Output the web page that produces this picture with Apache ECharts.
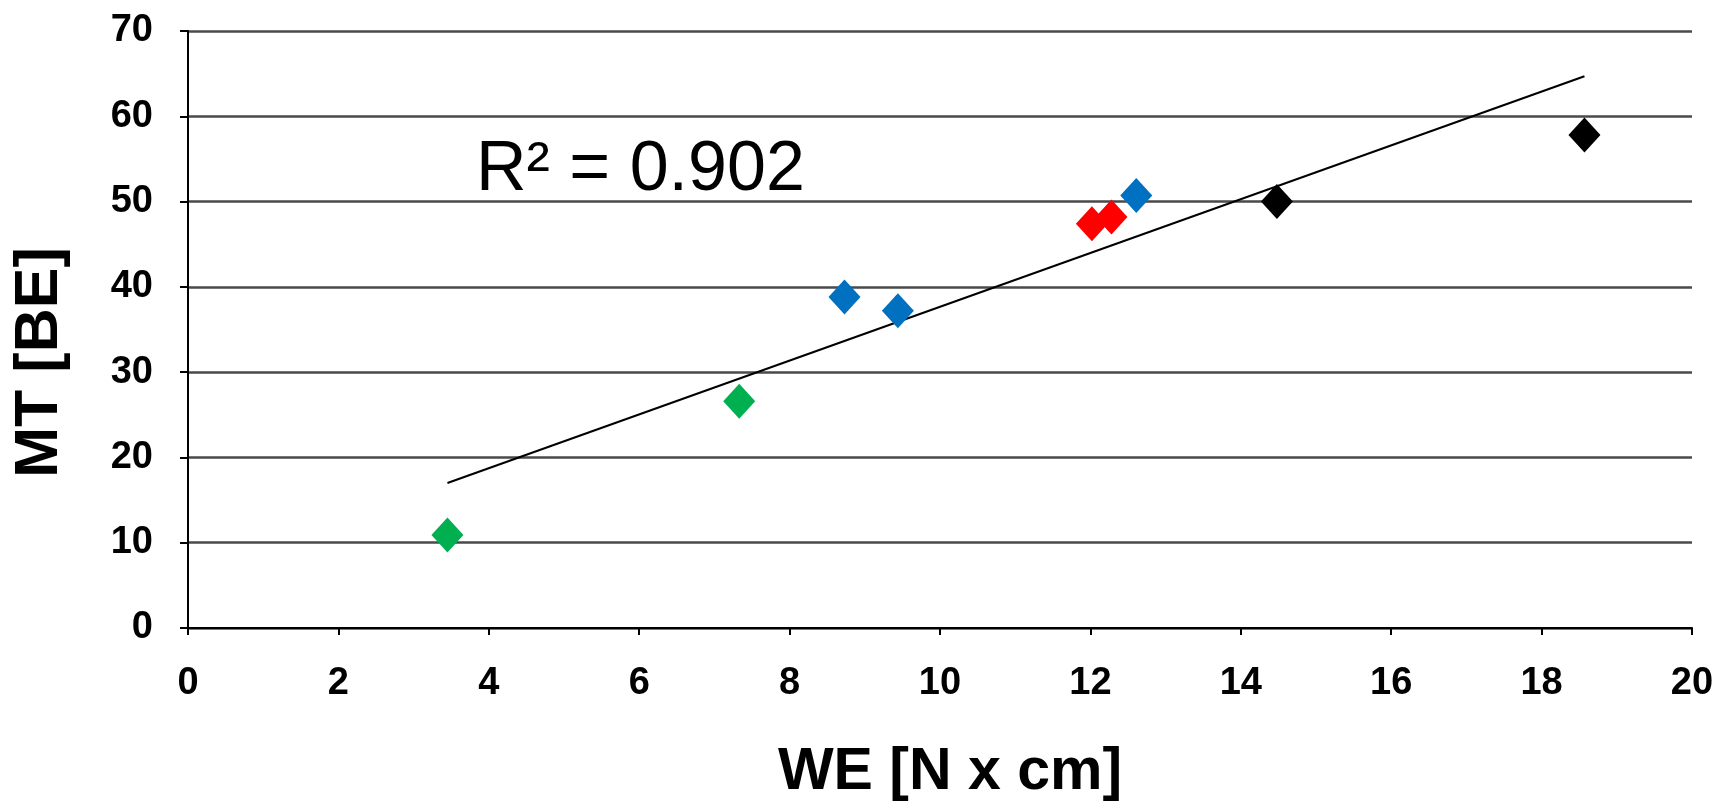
<!DOCTYPE html>
<html>
<head>
<meta charset="utf-8">
<script src="https://cdn.jsdelivr.net/npm/echarts@6/dist/echarts.min.js"></script>
<style>
  html, body { margin: 0; padding: 0; background: #fff; }
  #chart { width: 1734px; height: 812px; }
</style>
</head>
<body>
<div id="chart"></div>
<script>
// points, grouped by marker colour
const greenX = [3.45, 7.33]
const greenY = [10.9, 26.6]
const blueX = [8.73, 9.44, 12.61]
const blueY = [38.8, 37.2, 50.7]
const redX = [12.02, 12.28]
const redY = [47.4, 48.2]
const blackX = [14.48, 18.57]
const blackY = [50.0, 57.8]

// linear trend line end points
const trendX = [3.45, 18.57]
const trendY = [17.0, 64.7]

const rSquared = '0.902'

const pairs = (xs, ys) => xs.map((x, i) => [x, ys[i]])

const chart = echarts.init(document.getElementById('chart'))

const font = "'Liberation Sans', Arial, sans-serif"

function pointSeries(name, xs, ys, color) {
  return {
    name: name,
    type: 'scatter',
    symbol: 'diamond',
    symbolSize: [32, 35],
    data: pairs(xs, ys),
    itemStyle: { color: color, opacity: 1 },
    z: 3
  }
}

chart.setOption({
  animation: false,
  backgroundColor: '#fff',
  grid: {
    left: 188,
    right: 42,
    top: 31,
    bottom: 184
  },
  xAxis: {
    type: 'value',
    min: 0,
    max: 20,
    interval: 2,
    name: 'WE [N x cm]',
    nameLocation: 'middle',
    nameGap: 115,
    nameTextStyle: { fontFamily: font, fontWeight: 'bold', fontSize: 59, color: '#000', padding: [0, 0, 0, 20] },
    axisLine: { show: true, onZero: false, lineStyle: { color: '#000', width: 2 } },
    axisTick: { show: true, inside: false, length: 7, lineStyle: { color: '#000', width: 2 } },
    axisLabel: { margin: 37, fontFamily: font, fontWeight: 'bold', fontSize: 38, color: '#000' },
    splitLine: { show: false }
  },
  yAxis: {
    type: 'value',
    min: 0,
    max: 70,
    interval: 10,
    name: 'MT [BE]',
    nameLocation: 'middle',
    nameGap: 117,
    nameRotate: 90,
    nameTextStyle: { fontFamily: font, fontWeight: 'bold', fontSize: 61, color: '#000', padding: [0, 66, 0, 0] },
    axisLine: { show: true, lineStyle: { color: '#000', width: 2 } },
    axisTick: { show: true, inside: false, length: 8, lineStyle: { color: '#000', width: 2 } },
    axisLabel: { margin: 35, fontFamily: font, fontWeight: 'bold', fontSize: 38, color: '#000' },
    splitLine: { show: true, lineStyle: { color: '#4a4a4a', width: 2.5 } }
  },
  graphic: [{
    type: 'text',
    left: 476,
    top: 136,
    style: {
      text: 'R² = ' + rSquared,
      fontFamily: font,
      fontSize: 70,
      fill: '#000'
    },
    z: 10
  }],
  series: [
    {
      name: 'trend',
      type: 'line',
      data: pairs(trendX, trendY),
      symbol: 'none',
      lineStyle: { color: '#000', width: 2 },
      z: 2
    },
    pointSeries('green', greenX, greenY, '#00b050'),
    pointSeries('blue', blueX, blueY, '#0070c0'),
    pointSeries('red', redX, redY, '#ff0000'),
    pointSeries('black', blackX, blackY, '#000000')
  ]
})
</script>
</body>
</html>
